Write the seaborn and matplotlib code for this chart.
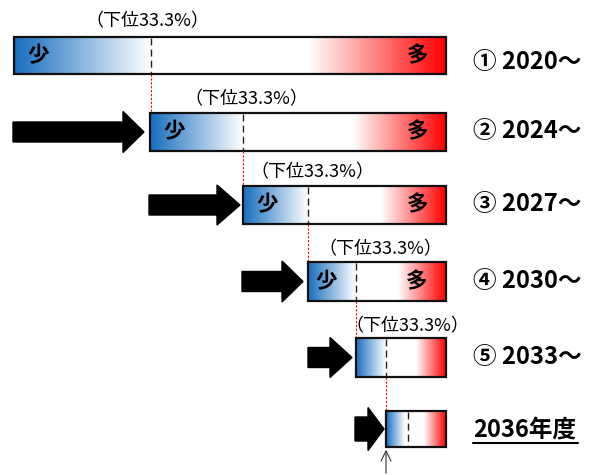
import numpy as np
import matplotlib
matplotlib.use("Agg")
import matplotlib.pyplot as plt
import seaborn as sns

sns.set_theme(style="white")
plt.rcParams['font.family'] = ['Noto Sans CJK JP', 'DejaVu Sans']

# ---- data (diagram geometry in pixel-like units) ----
period_labels = ["① 2020～", "② 2024～", "③ 2027～", "④ 2030～", "⑤ 2033～", "2036年度"]
bar_left = [14, 150, 243, 308, 356, 386]
bar_right = [446, 446, 446, 446, 446, 446]
bar_top = [37, 113, 186, 262, 338, 411]
bar_bottom = [74, 151, 224, 301, 377, 447]
threshold_x = [151, 243, 308, 356, 386, 408]   # 下位33.3% boundary
show_shao_duo = [True, True, True, True, False, False]
shao_x = [38, 174, 267, 326]
duo_x = [418, 418, 418, 417]
pct_label = "（下位33.3%）"
pct_label_x = [147, 246, 312, 380, 407]
pct_label_y = [21, 99, 172, 249, 326]
period_label_y = [62, 131, 204, 281, 357, 430]
# arrows: tail x, tip x, shaft half-height, head half-height, head length
arrow_tail = [13, 149, 242, 308, 355]
arrow_tip = [144, 240, 303, 352, 384]
arrow_shaft_hh = [10, 10, 10, 10, 12]
arrow_head_hh = [20.5, 20, 20.5, 20, 21.5]
arrow_head_len = [21, 23, 21, 22, 16]

blue = np.array([0.09, 0.43, 0.75])
red = np.array([1.0, 0.0, 0.0])
white = np.array([1.0, 1.0, 1.0])

fig = plt.figure(figsize=(5.98, 4.75), dpi=100)
ax = fig.add_axes([0, 0, 1, 1])
ax.set_axis_off()

for i in range(6):
    L, R, T, B = bar_left[i], bar_right[i], bar_top[i], bar_bottom[i]
    d = threshold_x[i]
    n = 600
    xs = np.linspace(L, R, n)
    blue_end = d if i < 5 else d - 3
    span = blue_end - L
    red_start = R - (d - L)
    img = np.ones((1, n, 3))
    for k, x in enumerate(xs):
        if x <= blue_end:
            m = (x - L) / span
            c = blue * (1 - m) + white * m
        elif x >= red_start:
            m = (x - red_start) / (R - red_start)
            c = white * (1 - m) + red * m
        else:
            c = white
        img[0, k] = c
    ax.imshow(img, extent=[L, R, B, T], aspect='auto', interpolation='bilinear', zorder=1)
    ax.add_patch(plt.Rectangle((L, T), R - L, B - T, fill=False, edgecolor='#111111',
                               linewidth=1.6, zorder=3))
    # dashed threshold line inside bar
    ax.plot([d, d], [T + 1, B - 1], color='#222222', lw=1.0, ls=(0, (5, 3)), zorder=2)
    # red dotted connector to next bar
    if i < 5:
        ax.plot([d, d], [B, bar_top[i + 1]], color='red', lw=0.8, ls=(0, (2, 1.5)), zorder=2)
    cy = (T + B) / 2
    if show_shao_duo[i]:
        ax.text(shao_x[i], cy, "少", ha='center', va='center', fontsize=15.5,
                fontweight='bold', color='black', zorder=4)
        ax.text(duo_x[i], cy, "多", ha='center', va='center', fontsize=15.5,
                fontweight='bold', color='black', zorder=4)
    if i < 5:
        ax.text(pct_label_x[i], pct_label_y[i], pct_label, ha='center', va='center',
                fontsize=13, color='black', zorder=4)
    ax.text(473, period_label_y[i], period_labels[i], ha='left', va='center',
            fontsize=17, fontweight='bold', color='black', zorder=4)

# underline for 2036年度
ax.plot([473, 578], [443, 443], color='black', lw=1.5)

# block arrows
for j in range(5):
    cy = (bar_top[j + 1] + bar_bottom[j + 1]) / 2
    t0, t1 = arrow_tail[j], arrow_tip[j]
    sh, hh, hl = arrow_shaft_hh[j], arrow_head_hh[j], arrow_head_len[j]
    xs = [t0, t1 - hl, t1 - hl, t1, t1 - hl, t1 - hl, t0]
    ys = [cy - sh, cy - sh, cy - hh, cy, cy + hh, cy + sh, cy + sh]
    ax.fill(xs, ys, color='black', zorder=3)

# small upward arrow under the last bar
ax.annotate("", xy=(386, 447), xytext=(386, 476),
            arrowprops=dict(arrowstyle='->', color='#333333', lw=0.8, mutation_scale=18))

ax.set_xlim(0, 598)
ax.set_ylim(475, 0)
ax.set_aspect('auto')

fig.savefig("out.png", dpi=100)
